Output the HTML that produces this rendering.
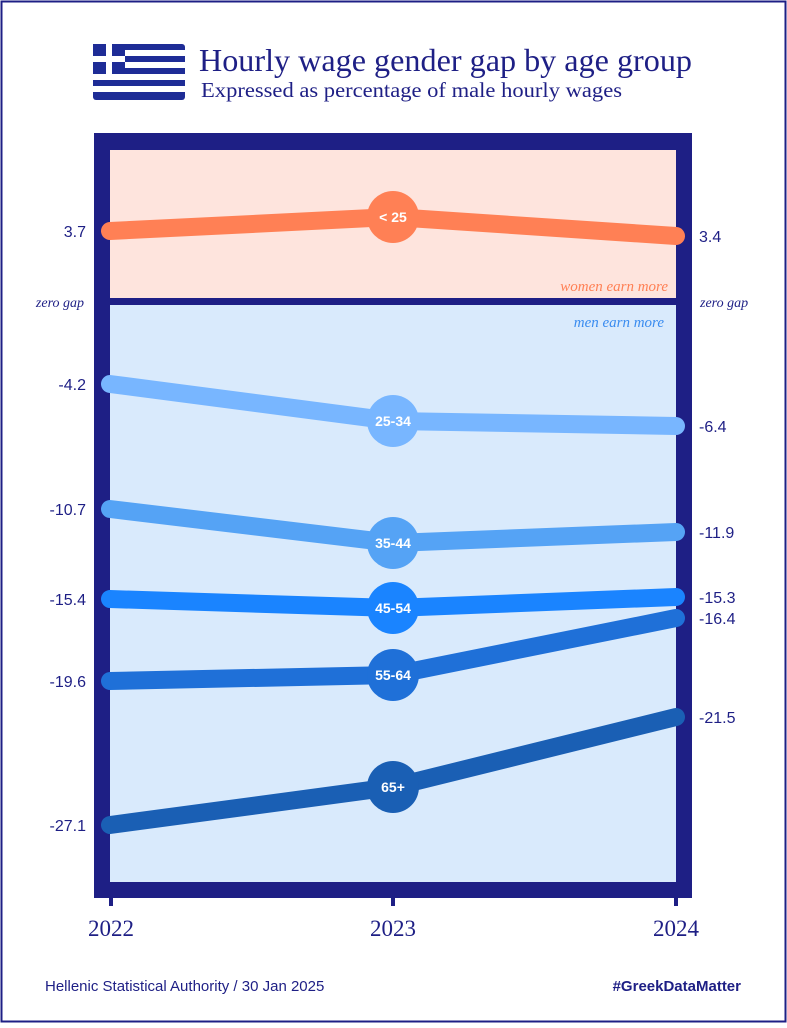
<!DOCTYPE html>
<html><head><meta charset="utf-8"><style>
body{margin:0;background:#fff}
</style></head><body>
<svg width="787" height="1023" viewBox="0 0 787 1023" xmlns="http://www.w3.org/2000/svg" font-family="Liberation Sans, sans-serif">
<rect x="1.5" y="1.5" width="784" height="1020" fill="#fff" stroke="#1e1f85" stroke-width="2"/>
<!-- flag -->
<g>
<rect x="93" y="44" width="92" height="56" fill="#1e2c96" rx="3"/>
<g fill="#fff">
<rect x="93" y="50" width="92" height="6"/><rect x="93" y="62" width="92" height="6"/><rect x="93" y="74" width="92" height="6"/><rect x="93" y="86" width="92" height="6"/>
</g>
<rect x="93" y="44" width="32" height="30" fill="#1e2c96"/>
<rect x="106" y="44" width="6" height="30" fill="#fff"/><rect x="93" y="56" width="32" height="6" fill="#fff"/>
</g>
<text x="199" y="71" font-family="Liberation Serif, serif" font-size="32" textLength="493" lengthAdjust="spacingAndGlyphs" fill="#1e1f85">Hourly wage gender gap by age group</text>
<text x="201" y="97" font-family="Liberation Serif, serif" font-size="21" textLength="421" lengthAdjust="spacingAndGlyphs" fill="#1e1f85">Expressed as percentage of male hourly wages</text>
<!-- frame -->
<rect x="94" y="133" width="598" height="765" fill="#1e1f85"/>
<rect x="110" y="150" width="566" height="148" fill="#fee4dd"/>
<rect x="110" y="305" width="566" height="577" fill="#d9eafc"/>
<rect x="109" y="896" width="4" height="10" fill="#1e1f85"/>
<rect x="391" y="896" width="4" height="10" fill="#1e1f85"/>
<rect x="674" y="896" width="4" height="10" fill="#1e1f85"/>
<g font-size="23" fill="#1e1f85" text-anchor="middle" font-family="Liberation Serif, serif">
<text x="111" y="936">2022</text><text x="393" y="936">2023</text><text x="676" y="936">2024</text>
</g>
<g font-family="Liberation Serif, serif" font-style="italic" font-size="15">
<text x="668" y="291" text-anchor="end" fill="#ff8055">women earn more</text>
<text x="664" y="327" text-anchor="end" fill="#3a8cf0">men earn more</text>
<text x="84" y="307" text-anchor="end" fill="#1e1f85" font-size="14">zero gap</text>
<text x="700" y="307" fill="#1e1f85" font-size="14">zero gap</text>
</g>
<g fill="none" stroke-width="18" stroke-linecap="round" stroke-linejoin="round">
<polyline points="110,231 393,217 676,236" stroke="#ff8055"/>
<polyline points="110,384 393,421 676,426" stroke="#78b6ff"/>
<polyline points="110,509 393,543 676,532" stroke="#55a3f5"/>
<polyline points="110,599 393,608 676,597" stroke="#1a84ff"/>
<polyline points="110,681 393,675 676,618" stroke="#1f70d8"/>
<polyline points="110,825 393,787 676,717" stroke="#1a5fb4"/>
</g>
<g font-weight="bold" font-size="14" fill="#fff" text-anchor="middle">
<circle cx="393" cy="217" r="26" fill="#ff8055"/><text x="393" y="222">&lt; 25</text>
<circle cx="393" cy="421" r="26" fill="#78b6ff"/><text x="393" y="426">25-34</text>
<circle cx="393" cy="543" r="26" fill="#55a3f5"/><text x="393" y="548">35-44</text>
<circle cx="393" cy="608" r="26" fill="#1a84ff"/><text x="393" y="613">45-54</text>
<circle cx="393" cy="675" r="26" fill="#1f70d8"/><text x="393" y="680">55-64</text>
<circle cx="393" cy="787" r="26" fill="#1a5fb4"/><text x="393" y="792">65+</text>
</g>
<g font-size="16" fill="#1e1f85">
<g text-anchor="end">
<text x="86" y="237">3.7</text><text x="86" y="390">-4.2</text><text x="86" y="515">-10.7</text>
<text x="86" y="605">-15.4</text><text x="86" y="687">-19.6</text><text x="86" y="831">-27.1</text>
</g>
<text x="699" y="242">3.4</text><text x="699" y="432">-6.4</text><text x="699" y="538">-11.9</text>
<text x="699" y="603">-15.3</text><text x="699" y="624">-16.4</text><text x="699" y="723">-21.5</text>
</g>
<text x="45" y="991" font-size="15" fill="#1e1f85">Hellenic Statistical Authority / 30 Jan 2025</text>
<text x="741" y="991" font-size="15" font-weight="bold" fill="#1e1f85" text-anchor="end">#GreekDataMatter</text>
</svg>
</body></html>
